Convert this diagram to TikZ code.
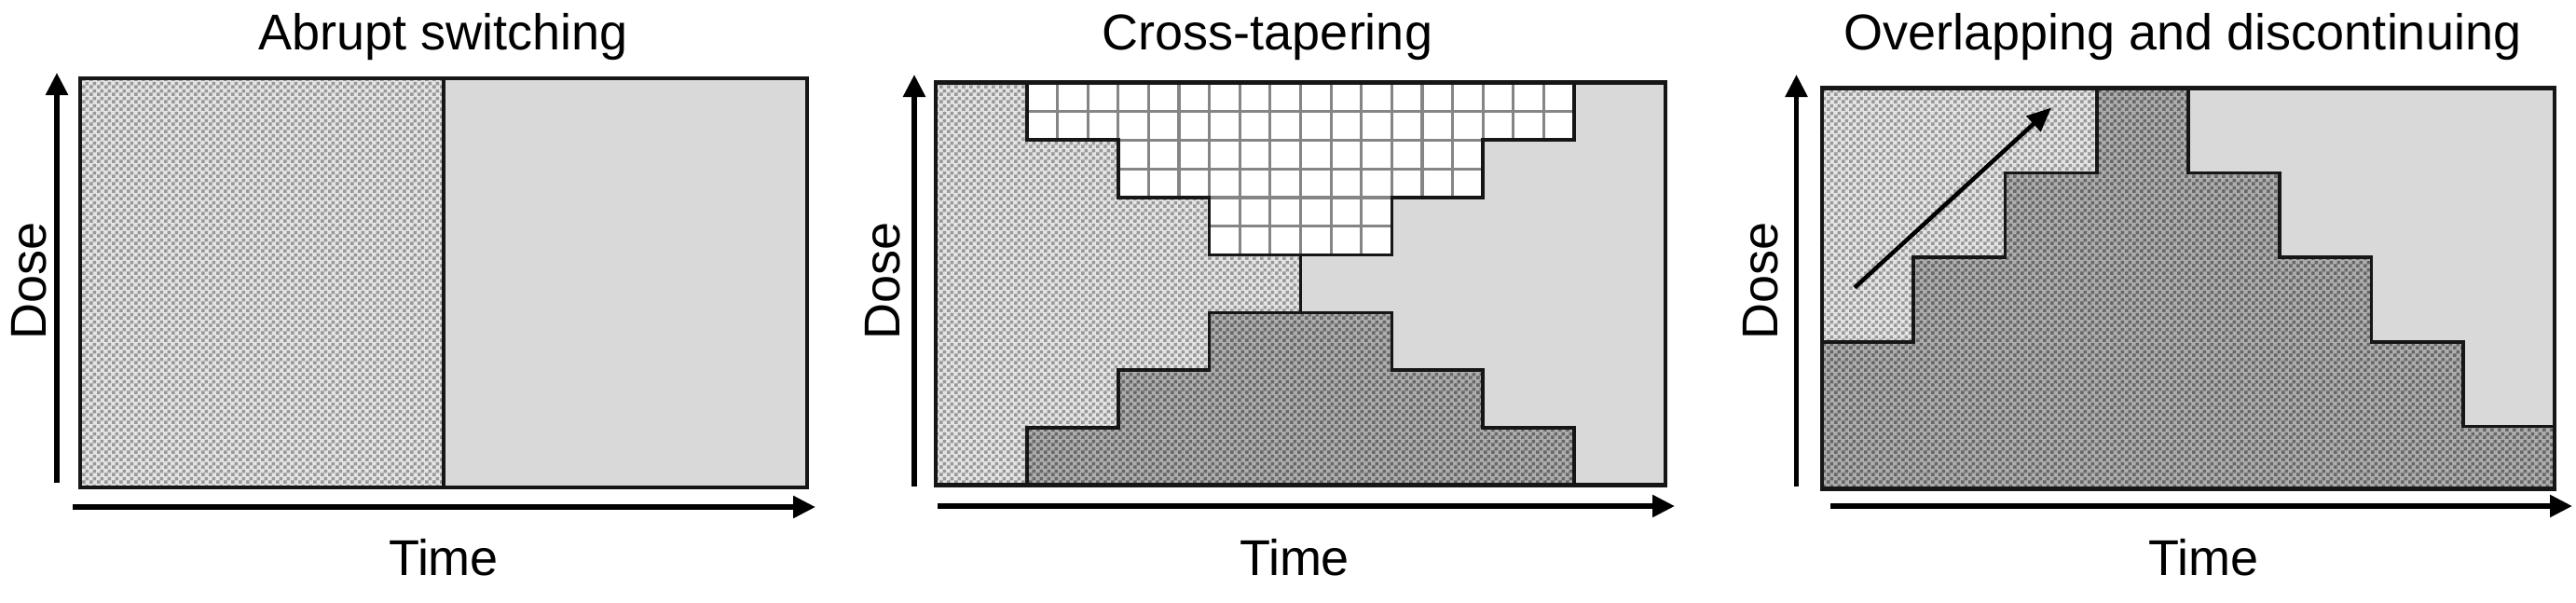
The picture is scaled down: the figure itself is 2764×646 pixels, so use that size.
\documentclass[tikz,border=0pt]{standalone}
\usepackage{fontspec}
\setmainfont{Liberation Sans}
\usetikzlibrary{arrows.meta,patterns}
\pgfdeclarepatternformonly{bigcheck}{\pgfpointorigin}{\pgfqpoint{8pt}{8pt}}{\pgfqpoint{8pt}{8pt}}{%
 \pgfpathrectangle{\pgfpointorigin}{\pgfqpoint{4pt}{4pt}}%
 \pgfpathrectangle{\pgfqpoint{4pt}{4pt}}{\pgfqpoint{4pt}{4pt}}%
 \pgfusepath{fill}}
\definecolor{lightbase}{HTML}{E4E4E4}
\definecolor{lightdot}{HTML}{989898}
\definecolor{darkbase}{HTML}{ADADAD}
\definecolor{darkdot}{HTML}{676767}
\definecolor{plaingray}{HTML}{D9D9D9}
\definecolor{gridgray}{HTML}{858585}
\definecolor{edge}{HTML}{161616}
\tikzset{
 lbl/.style={inner sep=0pt, font=\fontsize{54}{60}\selectfont, anchor=base},
 axis/.style={line width=5.5pt, -{Triangle[length=24pt,width=23pt]}},
 lightfill/.style={fill=lightbase, postaction={pattern=bigcheck, pattern color=lightdot}},
 darkfill/.style={fill=darkbase, postaction={pattern=bigcheck, pattern color=darkdot}},
 grayfill/.style={fill=plaingray},
 gridl/.style={draw=gridgray, line width=3.2pt},
 region/.style={draw=edge, line width=3.6pt, line join=miter},
 frame/.style={draw=edge, line width=4.6pt, line join=miter},
}
\begin{document}
\begin{tikzpicture}[x=1pt,y=-1pt]
\useasboundingbox[fill=white] (0,0) rectangle (2764,646);

% ---------- Panel 1 ----------
\path[lightfill] (86,84) rectangle (476,523);
\path[grayfill] (476,84) rectangle (866,523);
\draw[region] (476,84) -- (476,523);
\draw[frame] (86,84) rectangle (866,523);
\node[lbl] (t1) at (476,53) {Abrupt switching};
\node[lbl] (time1) at (476,617) {Time};
\node[lbl, rotate=90] (dose1) at (49,301) {Dose};
\coordinate (y1s) at (61,518);
\coordinate (y1e) at (61,78);
\coordinate (x1s) at (78,544);
\coordinate (x1e) at (875,544);
\draw[axis] (y1s) -- (y1e);
\draw[axis] (x1s) -- (x1e);

% ---------- Panel 2 ----------
\begin{scope}[shift={(1004pt,-88.5pt)}, x=97.875pt, y=-61.73pt]
 \path[grayfill] (0,0) rectangle (8,7);
 \path[lightfill] (0,0)--(1,0)--(1,1)--(2,1)--(2,2)--(3,2)--(3,3)--(4,3)--(4,4)--(3,4)--(3,5)--(2,5)--(2,6)--(1,6)--(1,7)--(0,7)--cycle;
 \fill[white] (1,0)--(1,1)--(2,1)--(2,2)--(3,2)--(3,3)--(5,3)--(5,2)--(6,2)--(6,1)--(7,1)--(7,0)--cycle;
 \begin{scope}
  \clip (1,0)--(1,1)--(2,1)--(2,2)--(3,2)--(3,3)--(5,3)--(5,2)--(6,2)--(6,1)--(7,1)--(7,0)--cycle;
  \foreach \k in {1,...,17} \draw[gridl] ({1+\k/3},0) -- ({1+\k/3},3);
  \foreach \k in {1,...,5} \draw[gridl] (1,{\k/2}) -- (7,{\k/2});
 \end{scope}
 \path[darkfill] (1,7)--(1,6)--(2,6)--(2,5)--(3,5)--(3,4)--(5,4)--(5,5)--(6,5)--(6,6)--(7,6)--(7,7)--cycle;
 \draw[region] (1,0)--(1,1)--(2,1)--(2,2)--(3,2)--(3,3)--(5,3)--(5,2)--(6,2)--(6,1)--(7,1)--(7,0);
 \draw[region] (1,7)--(1,6)--(2,6)--(2,5)--(3,5)--(3,4)--(5,4)--(5,5)--(6,5)--(6,6)--(7,6)--(7,7);
 \draw[region] (4,3)--(4,4);
 \draw[frame] (0,0) rectangle (8,7);
\end{scope}
\node[lbl] (t2) at (1360,53) {Cross-tapering};
\node[lbl] (time2) at (1389,617) {Time};
\node[lbl, rotate=90] (dose2) at (965,301) {Dose};
\coordinate (y2s) at (981,522);
\coordinate (y2e) at (981,80);
\coordinate (x2s) at (1006,543);
\coordinate (x2e) at (1797,543);
\draw[axis] (y2s) -- (y2e);
\draw[axis] (x2s) -- (x2e);

% ---------- Panel 3 ----------
\begin{scope}[shift={(1955pt,-94.7pt)}, x=98.25pt, y=-90.7pt]
 \path[darkfill] (0,0) rectangle (8,4.741);
 \path[lightfill] (0,0)--(3,0)--(3,1)--(2,1)--(2,2)--(1,2)--(1,3)--(0,3)--cycle;
 \path[grayfill] (4,0)--(8,0)--(8,4)--(7,4)--(7,3)--(6,3)--(6,2)--(5,2)--(5,1)--(4,1)--cycle;
 \draw[region] (3,0)--(3,1)--(2,1)--(2,2)--(1,2)--(1,3)--(0,3);
 \draw[region] (4,0)--(4,1)--(5,1)--(5,2)--(6,2)--(6,3)--(7,3)--(7,4)--(8,4);
 \draw[frame] (0,0) rectangle (8,4.741);
\end{scope}
\coordinate (a3s) at (1990,308.6);
\coordinate (a3e) at (2201,115.5);
\draw[line width=4.5pt, -{Triangle[length=26pt,width=22pt]}] (a3s) -- (a3e);
\node[lbl] (t3) at (2342,53) {Overlapping and discontinuing};
\node[lbl] (time3) at (2364,617) {Time};
\node[lbl, rotate=90] (dose3) at (1907,301) {Dose};
\coordinate (y3s) at (1927.5,522);
\coordinate (y3e) at (1927.5,80);
\coordinate (x3s) at (1964,543);
\coordinate (x3e) at (2760,543);
\draw[axis] (y3s) -- (y3e);
\draw[axis] (x3s) -- (x3e);
\end{tikzpicture}
\end{document}
